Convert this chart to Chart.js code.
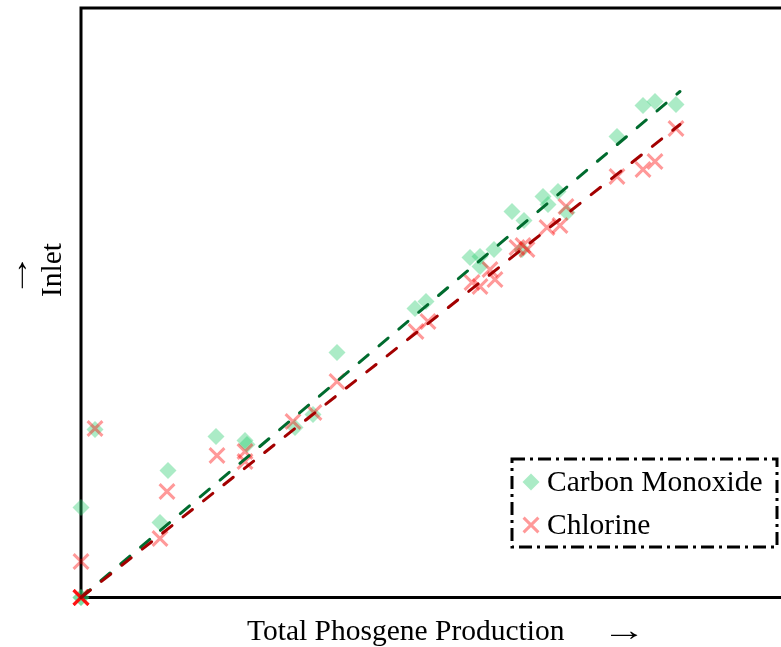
<!DOCTYPE html>
<html>
<head>
<meta charset="utf-8">
<script src="https://cdn.jsdelivr.net/npm/chart.js@4.4.1/dist/chart.umd.min.js"></script>
<style>
  body { margin: 0; background: #fff; }
  canvas { display: block; }
</style>
</head>
<body>
<canvas id="grafico" width="781" height="647"></canvas>
<script>
// Carbon monoxide inlet vs total phosgene production
const coX = [0, 0, 0, 14, 79, 87, 135, 164, 166, 214, 232, 256, 334, 345, 389, 399, 413, 399, 431, 443, 441, 462, 477, 467, 486, 536, 562, 574, 595];
const coY = [0, 0, 90, 168, 75, 127, 161, 157, 153, 170, 183, 245, 289, 296, 340, 341, 348, 331, 386, 377, 348, 401, 406, 393, 385, 461, 492, 496, 493];

// chlorine inlet vs total phosgene production
const clX = [0, 0, 0, 0, 0, 0, 14, 79, 86, 136, 164, 164, 212, 233, 256, 335, 347, 391, 399, 414, 409, 436, 442, 446, 466, 479, 485, 536, 562, 574, 595];
const clY = [0, 0, 0, 0, 0, 36, 169, 59, 106, 142, 146, 136, 176, 185, 216, 266, 276, 315, 311, 318, 328, 350, 352, 348, 370, 372, 391, 421, 428, 436, 469];

// linear fits (start and end of each line)
const fitX = [0, 599];
const coFitY = [0, 506];
const clFitY = [0, 473];

const fonte = "29.5px 'Liberation Serif', 'Times New Roman', serif";
const corCO = 'rgba(46, 204, 113, 0.4)';
const corCl = 'rgba(255, 0, 0, 0.4)';

function pontos(xs, ys) {
  return xs.map((x, i) => ({ x: x, y: ys[i] }));
}

// frame: top, left and bottom edges
const moldura = {
  id: 'moldura',
  beforeDatasetsDraw(chart) {
    const { ctx, chartArea: a } = chart;
    ctx.save();
    ctx.strokeStyle = '#000';
    ctx.lineWidth = 3;
    ctx.beginPath();
    ctx.moveTo(a.left, a.top);
    ctx.lineTo(chart.width, a.top);
    ctx.moveTo(a.left, a.top - 1.5);
    ctx.lineTo(a.left, a.bottom + 1.5);
    ctx.moveTo(a.left, a.bottom);
    ctx.lineTo(chart.width, a.bottom);
    ctx.stroke();
    ctx.restore();
  }
};

// long thin arrow, stretched along its direction
function seta(ctx, x, y, angulo) {
  ctx.save();
  ctx.translate(x, y);
  ctx.rotate(angulo);
  ctx.scale(1.5, 1);
  ctx.textAlign = 'center';
  ctx.fillText('→', 0, 0);
  ctx.restore();
}

// axis titles and dash-dot legend box
const textos = {
  id: 'textos',
  afterDraw(chart) {
    const ctx = chart.ctx;
    ctx.save();
    ctx.fillStyle = '#000';
    ctx.font = fonte;
    ctx.textBaseline = 'middle';

    ctx.textAlign = 'left';
    ctx.fillText('Total Phosgene Production', 247, 632);
    seta(ctx, 624, 632, 0);

    seta(ctx, 19, 275, -Math.PI / 2);
    ctx.save();
    ctx.translate(53, 270);
    ctx.rotate(-Math.PI / 2);
    ctx.textAlign = 'center';
    ctx.fillText('Inlet', 0, 0);
    ctx.restore();

    // legend
    ctx.fillStyle = '#fff';
    ctx.fillRect(512, 459, 265, 88);
    ctx.strokeStyle = '#000';
    ctx.lineWidth = 3;
    ctx.setLineDash([13, 5, 3, 5]);
    ctx.strokeRect(512, 459, 265, 88);
    ctx.setLineDash([]);

    Chart.helpers.drawPoint(ctx, { pointStyle: 'rectRot', radius: 8.5, rotation: 0, borderWidth: 0 }, 531, 482);
    ctx.fillStyle = corCO;
    ctx.fill();
    ctx.strokeStyle = corCl;
    ctx.lineWidth = 3;
    Chart.helpers.drawPoint(ctx, { pointStyle: 'crossRot', radius: 10.5, rotation: 0, borderWidth: 3 }, 531, 525);

    ctx.fillStyle = '#000';
    ctx.textAlign = 'left';
    ctx.fillText('Carbon Monoxide', 547, 483);
    ctx.fillText('Chlorine', 547, 526);
    ctx.restore();
  }
};

new Chart(document.getElementById('grafico'), {
  type: 'scatter',
  data: {
    datasets: [
      {
        label: 'Chlorine fit',
        data: pontos(fitX, clFitY),
        showLine: true,
        borderColor: '#a30000',
        borderWidth: 3,
        borderDash: [12, 14],
        borderCapStyle: 'round',
        pointRadius: 0,
        clip: false
      },
      {
        label: 'Carbon Monoxide fit',
        data: pontos(fitX, coFitY),
        showLine: true,
        borderColor: '#006b2e',
        borderWidth: 3,
        borderDash: [12, 14],
        borderCapStyle: 'round',
        pointRadius: 0,
        clip: false
      },
      {
        label: 'Chlorine',
        data: pontos(clX, clY),
        pointStyle: 'crossRot',
        pointRadius: 10.5,
        borderColor: corCl,
        backgroundColor: corCl,
        pointBorderWidth: 3,
        clip: false
      },
      {
        label: 'Carbon Monoxide',
        data: pontos(coX, coY),
        pointStyle: 'rectRot',
        pointRadius: 8.5,
        backgroundColor: corCO,
        pointBorderWidth: 0,
        borderWidth: 0,
        clip: false
      }
    ]
  },
  options: {
    responsive: false,
    animation: false,
    layout: { autoPadding: false, padding: { left: 81, top: 8, right: 0, bottom: 49.5 } },
    scales: {
      x: { type: 'linear', min: 0, max: 700, display: false },
      y: { type: 'linear', min: 0, max: 589.5, display: false }
    },
    plugins: {
      legend: { display: false },
      tooltip: { enabled: false }
    }
  },
  plugins: [moldura, textos]
});
</script>
</body>
</html>
